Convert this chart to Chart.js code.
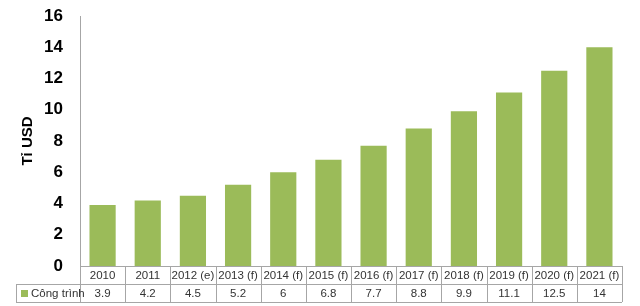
<!DOCTYPE html>
<html>
<head>
<meta charset="utf-8">
<script src="https://cdn.jsdelivr.net/npm/chart.js@4/dist/chart.umd.min.js"></script>
<style>
  html, body { margin: 0; padding: 0; background: #fff; }
  #wrap { width: 640px; height: 306px; position: relative; }
</style>
</head>
<body>
<div id="wrap"><canvas id="chart_congTrinh"></canvas></div>
<script>
var categories = ['2010', '2011', '2012 (e)', '2013 (f)', '2014 (f)', '2015 (f)', '2016 (f)', '2017 (f)', '2018 (f)', '2019 (f)', '2020 (f)', '2021 (f)'];
var congTrinh = [3.9, 4.2, 4.5, 5.2, 6, 6.8, 7.7, 8.8, 9.9, 11.1, 12.5, 14];
var seriesName = 'Công trình';
var yTitle = 'Tỉ USD';

var barColor = '#9bbb59';
var gridColor = '#a6a6a6';

var dataTablePlugin = {
    id: 'dataTable',
    afterDraw: (chart) => {
        const ctx = chart.ctx;
        const x = chart.scales.x;
        const area = chart.chartArea;
        const rowH = 18;
        const legendLeft = 16;
        const top = area.bottom;
        const step = (area.right - area.left) / categories.length;
        ctx.save();
        ctx.strokeStyle = gridColor;
        ctx.lineWidth = 1;
        ctx.beginPath();
        // horizontal lines
        ctx.moveTo(area.left, top + 0.5); ctx.lineTo(area.right, top + 0.5);
        ctx.moveTo(legendLeft, top + rowH + 0.5); ctx.lineTo(area.right, top + rowH + 0.5);
        ctx.moveTo(legendLeft, top + 2 * rowH + 0.5); ctx.lineTo(area.right, top + 2 * rowH + 0.5);
        // vertical lines
        for (let i = 0; i <= categories.length; i++) {
            const lx = Math.round(area.left + i * step) + 0.5;
            ctx.moveTo(lx, top); ctx.lineTo(lx, top + 2 * rowH);
        }
        ctx.moveTo(legendLeft + 0.5, top + rowH); ctx.lineTo(legendLeft + 0.5, top + 2 * rowH);
        ctx.stroke();

        ctx.fillStyle = '#333';
        ctx.font = '11.5px "Liberation Sans", Arial, sans-serif';
        ctx.textAlign = 'center';
        ctx.textBaseline = 'middle';
        categories.forEach((c, i) => {
            const cx = x.getPixelForValue(i);
            ctx.fillText(c, cx, top + rowH / 2 + 1);
            ctx.fillText(String(congTrinh[i]), cx, top + rowH * 1.5 + 1);
        });
        // legend key
        ctx.fillStyle = barColor;
        ctx.fillRect(legendLeft + 5, top + rowH * 1.5 - 3, 7, 7);
        ctx.fillStyle = '#333';
        ctx.textAlign = 'left';
        ctx.fillText(seriesName, legendLeft + 15, top + rowH * 1.5 + 1);
        ctx.restore();
    }
};

var chart_congTrinh = new Chart(document.getElementById('chart_congTrinh'), {
    type: 'bar',
    data: {
        labels: categories,
        datasets: [
            {
                label: seriesName,
                data: congTrinh,
                backgroundColor: barColor,
                borderWidth: 0,
                categoryPercentage: 0.58,
                barPercentage: 1
            }
        ]
    },
    options: {
        animation: false,
        responsive: true,
        maintainAspectRatio: false,
        layout: {
            padding: { top: 16, right: 18, bottom: 40, left: 19 }
        },
        plugins: {
            legend: { display: false },
            tooltip: { enabled: false }
        },
        scales: {
            x: {
                display: false,
                offset: true
            },
            y: {
                min: 0,
                max: 16,
                ticks: {
                    stepSize: 2,
                    color: '#000',
                    padding: 17,
                    font: { family: '"Liberation Sans", Arial, sans-serif', size: 17, weight: 'bold' }
                },
                grid: { display: false, drawTicks: false },
                border: { display: true, color: gridColor, width: 1 },
                title: {
                    display: true,
                    text: yTitle,
                    color: '#000',
                    padding: { top: 0, bottom: 0 },
                    font: { family: '"Liberation Sans", Arial, sans-serif', size: 15, weight: 'bold' }
                },
                afterFit: (scale) => {
                    scale.width = 61;
                    scale.paddingTop = 0;
                    scale.paddingBottom = 0;
                }
            }
        }
    },
    plugins: [dataTablePlugin, {
        id: 'whiteBg',
        beforeDraw: (chart) => {
            const ctx = chart.canvas.getContext('2d');
            ctx.save();
            ctx.globalCompositeOperation = 'destination-over';
            ctx.fillStyle = 'white';
            ctx.fillRect(0, 0, chart.canvas.width, chart.canvas.height);
            ctx.restore();
        }
    }]
});
</script>
</body>
</html>
